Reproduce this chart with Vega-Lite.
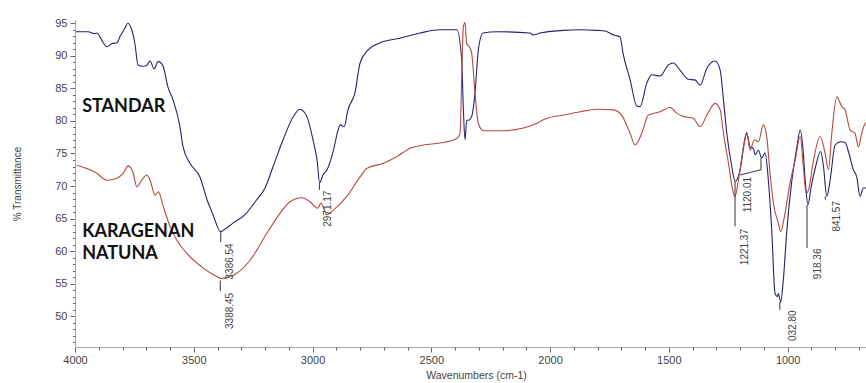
{
  "$schema": "https://vega.github.io/schema/vega-lite/v6.json",
  "width": 791,
  "height": 327,
  "autosize": "none",
  "padding": {"left": 75, "top": 20, "right": 0, "bottom": 36},
  "background": "white",
  "config": {"view": {"stroke": null}, "font": "Liberation Sans"},
  "resolve": {"axis": {"x": "independent", "y": "independent"}},
  "datasets": {
    "spectra": [
      {"s":"STANDAR","wn":3996,"T":93.7},{"s":"STANDAR","wn":3945,"T":93.7},{"s":"STANDAR","wn":3916,"T":93.4},{"s":"STANDAR","wn":3907,"T":93.5},{"s":"STANDAR","wn":3895,"T":92.9},{"s":"STANDAR","wn":3865,"T":91.4},{"s":"STANDAR","wn":3844,"T":91.9},{"s":"STANDAR","wn":3823,"T":92.0},{"s":"STANDAR","wn":3810,"T":93.0},{"s":"STANDAR","wn":3802,"T":93.5},{"s":"STANDAR","wn":3789,"T":94.3},{"s":"STANDAR","wn":3778,"T":95.0},{"s":"STANDAR","wn":3764,"T":94.3},{"s":"STANDAR","wn":3747,"T":91.7},{"s":"STANDAR","wn":3735,"T":88.6},{"s":"STANDAR","wn":3714,"T":88.4},{"s":"STANDAR","wn":3697,"T":88.6},{"s":"STANDAR","wn":3684,"T":89.2},{"s":"STANDAR","wn":3667,"T":88.0},{"s":"STANDAR","wn":3650,"T":89.1},{"s":"STANDAR","wn":3638,"T":88.9},{"s":"STANDAR","wn":3629,"T":88.4},{"s":"STANDAR","wn":3608,"T":85.1},{"s":"STANDAR","wn":3587,"T":83.2},{"s":"STANDAR","wn":3558,"T":79.1},{"s":"STANDAR","wn":3545,"T":76.0},{"s":"STANDAR","wn":3516,"T":73.5},{"s":"STANDAR","wn":3474,"T":71.4},{"s":"STANDAR","wn":3444,"T":67.9},{"s":"STANDAR","wn":3419,"T":65.6},{"s":"STANDAR","wn":3387,"T":63.0},{"s":"STANDAR","wn":3368,"T":63.4},{"s":"STANDAR","wn":3335,"T":64.3},{"s":"STANDAR","wn":3284,"T":65.6},{"s":"STANDAR","wn":3235,"T":67.9},{"s":"STANDAR","wn":3200,"T":69.7},{"s":"STANDAR","wn":3166,"T":73.0},{"s":"STANDAR","wn":3124,"T":77.1},{"s":"STANDAR","wn":3082,"T":80.6},{"s":"STANDAR","wn":3053,"T":81.8},{"s":"STANDAR","wn":3024,"T":80.7},{"s":"STANDAR","wn":2998,"T":77.1},{"s":"STANDAR","wn":2981,"T":74.0},{"s":"STANDAR","wn":2970,"T":70.5},{"s":"STANDAR","wn":2956,"T":71.7},{"s":"STANDAR","wn":2939,"T":72.5},{"s":"STANDAR","wn":2914,"T":75.2},{"s":"STANDAR","wn":2893,"T":78.5},{"s":"STANDAR","wn":2884,"T":79.4},{"s":"STANDAR","wn":2867,"T":79.1},{"s":"STANDAR","wn":2851,"T":81.7},{"s":"STANDAR","wn":2821,"T":84.4},{"s":"STANDAR","wn":2800,"T":88.9},{"s":"STANDAR","wn":2766,"T":90.9},{"s":"STANDAR","wn":2716,"T":92.0},{"s":"STANDAR","wn":2632,"T":92.7},{"s":"STANDAR","wn":2547,"T":93.5},{"s":"STANDAR","wn":2463,"T":94.0},{"s":"STANDAR","wn":2393,"T":94.0},{"s":"STANDAR","wn":2372,"T":89.4},{"s":"STANDAR","wn":2365,"T":81.7},{"s":"STANDAR","wn":2358,"T":77.1},{"s":"STANDAR","wn":2351,"T":80.1},{"s":"STANDAR","wn":2344,"T":80.1},{"s":"STANDAR","wn":2330,"T":80.7},{"s":"STANDAR","wn":2316,"T":84.3},{"s":"STANDAR","wn":2302,"T":90.9},{"s":"STANDAR","wn":2282,"T":93.5},{"s":"STANDAR","wn":2224,"T":93.7},{"s":"STANDAR","wn":2084,"T":93.5},{"s":"STANDAR","wn":2072,"T":93.2},{"s":"STANDAR","wn":2042,"T":93.5},{"s":"STANDAR","wn":1945,"T":93.9},{"s":"STANDAR","wn":1874,"T":94.0},{"s":"STANDAR","wn":1803,"T":93.9},{"s":"STANDAR","wn":1768,"T":93.8},{"s":"STANDAR","wn":1733,"T":93.2},{"s":"STANDAR","wn":1705,"T":92.9},{"s":"STANDAR","wn":1693,"T":90.4},{"s":"STANDAR","wn":1663,"T":86.3},{"s":"STANDAR","wn":1635,"T":82.3},{"s":"STANDAR","wn":1621,"T":82.2},{"s":"STANDAR","wn":1593,"T":85.8},{"s":"STANDAR","wn":1572,"T":87.1},{"s":"STANDAR","wn":1537,"T":86.9},{"s":"STANDAR","wn":1502,"T":88.6},{"s":"STANDAR","wn":1481,"T":88.9},{"s":"STANDAR","wn":1453,"T":87.8},{"s":"STANDAR","wn":1418,"T":86.4},{"s":"STANDAR","wn":1390,"T":86.3},{"s":"STANDAR","wn":1368,"T":85.5},{"s":"STANDAR","wn":1340,"T":88.1},{"s":"STANDAR","wn":1305,"T":89.2},{"s":"STANDAR","wn":1284,"T":87.8},{"s":"STANDAR","wn":1270,"T":83.2},{"s":"STANDAR","wn":1256,"T":78.1},{"s":"STANDAR","wn":1235,"T":73.0},{"s":"STANDAR","wn":1221,"T":70.7},{"s":"STANDAR","wn":1200,"T":72.5},{"s":"STANDAR","wn":1179,"T":77.3},{"s":"STANDAR","wn":1172,"T":78.1},{"s":"STANDAR","wn":1158,"T":76.0},{"s":"STANDAR","wn":1144,"T":75.8},{"s":"STANDAR","wn":1137,"T":74.8},{"s":"STANDAR","wn":1123,"T":75.5},{"s":"STANDAR","wn":1109,"T":74.3},{"s":"STANDAR","wn":1095,"T":75.1},{"s":"STANDAR","wn":1081,"T":70.9},{"s":"STANDAR","wn":1067,"T":63.3},{"s":"STANDAR","wn":1053,"T":53.5},{"s":"STANDAR","wn":1043,"T":53.0},{"s":"STANDAR","wn":1039,"T":53.5},{"s":"STANDAR","wn":1029,"T":52.2},{"s":"STANDAR","wn":1018,"T":55.6},{"s":"STANDAR","wn":1003,"T":63.3},{"s":"STANDAR","wn":982,"T":70.9},{"s":"STANDAR","wn":961,"T":76.0},{"s":"STANDAR","wn":947,"T":78.6},{"s":"STANDAR","wn":936,"T":76.0},{"s":"STANDAR","wn":926,"T":70.9},{"s":"STANDAR","wn":914,"T":67.1},{"s":"STANDAR","wn":903,"T":69.4},{"s":"STANDAR","wn":882,"T":73.0},{"s":"STANDAR","wn":861,"T":75.3},{"s":"STANDAR","wn":849,"T":73.0},{"s":"STANDAR","wn":835,"T":68.4},{"s":"STANDAR","wn":821,"T":70.9},{"s":"STANDAR","wn":800,"T":76.3},{"s":"STANDAR","wn":777,"T":76.8},{"s":"STANDAR","wn":758,"T":76.7},{"s":"STANDAR","wn":744,"T":75.3},{"s":"STANDAR","wn":723,"T":72.5},{"s":"STANDAR","wn":709,"T":71.4},{"s":"STANDAR","wn":695,"T":68.4},{"s":"STANDAR","wn":681,"T":69.7},{"s":"STANDAR","wn":670,"T":69.7},
      {"s":"KARAGENAN NATUNA","wn":3993,"T":73.2},{"s":"KARAGENAN NATUNA","wn":3937,"T":72.5},{"s":"KARAGENAN NATUNA","wn":3909,"T":72.0},{"s":"KARAGENAN NATUNA","wn":3867,"T":70.9},{"s":"KARAGENAN NATUNA","wn":3824,"T":71.2},{"s":"KARAGENAN NATUNA","wn":3797,"T":72.0},{"s":"KARAGENAN NATUNA","wn":3776,"T":73.1},{"s":"KARAGENAN NATUNA","wn":3755,"T":72.0},{"s":"KARAGENAN NATUNA","wn":3740,"T":69.9},{"s":"KARAGENAN NATUNA","wn":3719,"T":70.9},{"s":"KARAGENAN NATUNA","wn":3698,"T":71.7},{"s":"KARAGENAN NATUNA","wn":3684,"T":70.9},{"s":"KARAGENAN NATUNA","wn":3663,"T":68.6},{"s":"KARAGENAN NATUNA","wn":3649,"T":69.1},{"s":"KARAGENAN NATUNA","wn":3628,"T":66.8},{"s":"KARAGENAN NATUNA","wn":3600,"T":63.8},{"s":"KARAGENAN NATUNA","wn":3572,"T":61.7},{"s":"KARAGENAN NATUNA","wn":3530,"T":59.7},{"s":"KARAGENAN NATUNA","wn":3460,"T":57.4},{"s":"KARAGENAN NATUNA","wn":3403,"T":56.1},{"s":"KARAGENAN NATUNA","wn":3385,"T":55.8},{"s":"KARAGENAN NATUNA","wn":3319,"T":56.6},{"s":"KARAGENAN NATUNA","wn":3263,"T":58.6},{"s":"KARAGENAN NATUNA","wn":3193,"T":62.7},{"s":"KARAGENAN NATUNA","wn":3137,"T":65.8},{"s":"KARAGENAN NATUNA","wn":3095,"T":67.6},{"s":"KARAGENAN NATUNA","wn":3045,"T":68.2},{"s":"KARAGENAN NATUNA","wn":3011,"T":67.6},{"s":"KARAGENAN NATUNA","wn":2978,"T":66.6},{"s":"KARAGENAN NATUNA","wn":2964,"T":67.4},{"s":"KARAGENAN NATUNA","wn":2955,"T":66.8},{"s":"KARAGENAN NATUNA","wn":2940,"T":65.6},{"s":"KARAGENAN NATUNA","wn":2912,"T":66.3},{"s":"KARAGENAN NATUNA","wn":2856,"T":68.4},{"s":"KARAGENAN NATUNA","wn":2800,"T":71.4},{"s":"KARAGENAN NATUNA","wn":2772,"T":72.7},{"s":"KARAGENAN NATUNA","wn":2702,"T":73.5},{"s":"KARAGENAN NATUNA","wn":2646,"T":74.5},{"s":"KARAGENAN NATUNA","wn":2589,"T":75.8},{"s":"KARAGENAN NATUNA","wn":2533,"T":76.3},{"s":"KARAGENAN NATUNA","wn":2463,"T":76.6},{"s":"KARAGENAN NATUNA","wn":2393,"T":77.3},{"s":"KARAGENAN NATUNA","wn":2379,"T":78.1},{"s":"KARAGENAN NATUNA","wn":2372,"T":86.8},{"s":"KARAGENAN NATUNA","wn":2365,"T":94.5},{"s":"KARAGENAN NATUNA","wn":2358,"T":95.1},{"s":"KARAGENAN NATUNA","wn":2351,"T":91.9},{"s":"KARAGENAN NATUNA","wn":2340,"T":91.4},{"s":"KARAGENAN NATUNA","wn":2330,"T":90.4},{"s":"KARAGENAN NATUNA","wn":2316,"T":84.2},{"s":"KARAGENAN NATUNA","wn":2302,"T":79.6},{"s":"KARAGENAN NATUNA","wn":2281,"T":78.5},{"s":"KARAGENAN NATUNA","wn":2197,"T":78.5},{"s":"KARAGENAN NATUNA","wn":2112,"T":78.9},{"s":"KARAGENAN NATUNA","wn":2070,"T":79.4},{"s":"KARAGENAN NATUNA","wn":2014,"T":80.4},{"s":"KARAGENAN NATUNA","wn":1944,"T":80.9},{"s":"KARAGENAN NATUNA","wn":1874,"T":81.4},{"s":"KARAGENAN NATUNA","wn":1803,"T":81.8},{"s":"KARAGENAN NATUNA","wn":1733,"T":81.7},{"s":"KARAGENAN NATUNA","wn":1699,"T":80.9},{"s":"KARAGENAN NATUNA","wn":1663,"T":78.1},{"s":"KARAGENAN NATUNA","wn":1642,"T":76.3},{"s":"KARAGENAN NATUNA","wn":1614,"T":78.1},{"s":"KARAGENAN NATUNA","wn":1586,"T":80.9},{"s":"KARAGENAN NATUNA","wn":1537,"T":81.4},{"s":"KARAGENAN NATUNA","wn":1495,"T":82.1},{"s":"KARAGENAN NATUNA","wn":1467,"T":81.2},{"s":"KARAGENAN NATUNA","wn":1439,"T":80.7},{"s":"KARAGENAN NATUNA","wn":1397,"T":80.4},{"s":"KARAGENAN NATUNA","wn":1368,"T":79.1},{"s":"KARAGENAN NATUNA","wn":1340,"T":80.9},{"s":"KARAGENAN NATUNA","wn":1305,"T":82.7},{"s":"KARAGENAN NATUNA","wn":1284,"T":81.7},{"s":"KARAGENAN NATUNA","wn":1270,"T":78.1},{"s":"KARAGENAN NATUNA","wn":1249,"T":73.5},{"s":"KARAGENAN NATUNA","wn":1228,"T":68.9},{"s":"KARAGENAN NATUNA","wn":1221,"T":68.4},{"s":"KARAGENAN NATUNA","wn":1207,"T":70.9},{"s":"KARAGENAN NATUNA","wn":1186,"T":76.0},{"s":"KARAGENAN NATUNA","wn":1172,"T":78.3},{"s":"KARAGENAN NATUNA","wn":1158,"T":75.5},{"s":"KARAGENAN NATUNA","wn":1140,"T":77.1},{"s":"KARAGENAN NATUNA","wn":1123,"T":76.8},{"s":"KARAGENAN NATUNA","wn":1102,"T":79.4},{"s":"KARAGENAN NATUNA","wn":1088,"T":77.6},{"s":"KARAGENAN NATUNA","wn":1074,"T":72.0},{"s":"KARAGENAN NATUNA","wn":1060,"T":67.4},{"s":"KARAGENAN NATUNA","wn":1039,"T":64.3},{"s":"KARAGENAN NATUNA","wn":1029,"T":63.0},{"s":"KARAGENAN NATUNA","wn":1011,"T":65.8},{"s":"KARAGENAN NATUNA","wn":990,"T":70.4},{"s":"KARAGENAN NATUNA","wn":968,"T":74.0},{"s":"KARAGENAN NATUNA","wn":947,"T":77.6},{"s":"KARAGENAN NATUNA","wn":934,"T":73.0},{"s":"KARAGENAN NATUNA","wn":922,"T":68.9},{"s":"KARAGENAN NATUNA","wn":912,"T":69.4},{"s":"KARAGENAN NATUNA","wn":891,"T":74.0},{"s":"KARAGENAN NATUNA","wn":863,"T":77.6},{"s":"KARAGENAN NATUNA","wn":842,"T":75.0},{"s":"KARAGENAN NATUNA","wn":828,"T":72.5},{"s":"KARAGENAN NATUNA","wn":814,"T":78.1},{"s":"KARAGENAN NATUNA","wn":793,"T":83.7},{"s":"KARAGENAN NATUNA","wn":772,"T":82.2},{"s":"KARAGENAN NATUNA","wn":758,"T":81.7},{"s":"KARAGENAN NATUNA","wn":737,"T":78.6},{"s":"KARAGENAN NATUNA","wn":716,"T":78.1},{"s":"KARAGENAN NATUNA","wn":702,"T":76.0},{"s":"KARAGENAN NATUNA","wn":688,"T":78.1},{"s":"KARAGENAN NATUNA","wn":674,"T":79.6},{"s":"KARAGENAN NATUNA","wn":670,"T":79.8}
    ],
    "peaks": [
      {"label":"3386.54","wn":3386.54,"t1":63.0,"t2":61.4,"lwn":3347,"lt":61.2},
      {"label":"3388.45","wn":3388.45,"t1":55.5,"t2":53.9,"lwn":3347,"lt":53.6},
      {"label":"2971.17","wn":2971.17,"t1":70.5,"t2":69.4,"lwn":2933,"lt":69.3},
      {"label":"1221.37","wn":1221.37,"t1":70.7,"t2":63.8,"lwn":1179,"lt":63.4},
      {"label":"1120.01","wn":null,"t1":null,"t2":null,"lwn":1165,"lt":71.4},
      {"label":"032.80","wn":1032.8,"t1":52.2,"t2":51.0,"lwn":977,"lt":50.9},
      {"label":"918.36","wn":918.36,"t1":67.1,"t2":60.5,"lwn":872,"lt":60.4},
      {"label":"841.57","wn":841.57,"t1":68.4,"t2":67.9,"lwn":793,"lt":67.7}
    ],
    "leader": [
      {"i":0,"wn":1112,"T":74.3},
      {"i":1,"wn":1112,"T":72.5},
      {"i":2,"wn":1200,"T":71.7}
    ],
    "names": [
      {"text":"STANDAR","wn":3970,"T":82.1},
      {"text":"KARAGENAN","wn":3970,"T":62.9},
      {"text":"NATUNA","wn":3970,"T":59.6}
    ]
  },
  "layer": [
    {
      "data": {"name": "spectra"},
      "mark": {"type": "line", "strokeWidth": 1.1, "clip": true, "interpolate": "monotone"},
      "encoding": {
        "x": {
          "field": "wn", "type": "quantitative",
          "scale": {"domain": [670, 4000], "reverse": true, "zero": false, "nice": false},
          "axis": {
            "orient": "bottom",
            "values": [4000,3500,3000,2500,2000,1500,1000],
            "format": "d",
            "labelOverlap": false,
            "labelFlush": false,
            "tickSize": 5,
            "grid": false,
            "domainColor": "#aaaaaa",
            "tickColor": "#666666",
            "labelColor": "#444444",
            "labelFontSize": 11,
            "labelPadding": 2,
            "title": "Wavenumbers (cm-1)",
            "titleFontWeight": "normal",
            "titleFontSize": 10.5,
            "titleColor": "#444444",
            "titlePadding": 5,
            "titleX": 401
          }
        },
        "y": {
          "field": "T", "type": "quantitative",
          "scale": {"domain": [45.28, 95.5], "zero": false, "nice": false},
          "axis": {
            "orient": "left",
            "values": [50,55,60,65,70,75,80,85,90,95],
            "format": "d",
            "labelOverlap": false,
            "labelFlush": false,
            "tickSize": 5,
            "grid": false,
            "domainColor": "#aaaaaa",
            "tickColor": "#666666",
            "labelColor": "#4a4050",
            "labelFontSize": 11,
            "labelPadding": 3,
            "title": "% Transmittance",
            "titleFontWeight": "normal",
            "titleFontSize": 10,
            "titleColor": "#444444",
            "titleX": -53
          }
        },
        "color": {
          "field": "s", "type": "nominal",
          "scale": {"domain": ["STANDAR", "KARAGENAN NATUNA"], "range": ["#24246e", "#b54a3d"]},
          "legend": null
        }
      }
    },
    {
      "data": {"name": "peaks"},
      "transform": [{"filter": "isValid(datum.t1)"}],
      "mark": {"type": "rule", "color": "#333333", "strokeWidth": 1},
      "encoding": {
        "x": {
          "field": "wn", "type": "quantitative",
          "axis": {
            "orient": "bottom",
            "values": [3900,3800,3700,3600,3400,3300,3200,3100,2900,2800,2700,2600,2400,2300,2200,2100,1900,1800,1700,1600,1400,1300,1200,1100,900,800,700],
            "labels": false, "domain": false, "grid": false,
            "tickSize": 3, "tickColor": "#666666", "title": null
          }
        },
        "y": {
          "field": "t1", "type": "quantitative",
          "axis": {
            "orient": "left",
            "values": [46,47,48,49,51,52,53,54,56,57,58,59,61,62,63,64,66,67,68,69,71,72,73,74,76,77,78,79,81,82,83,84,86,87,88,89,91,92,93,94],
            "labels": false, "domain": false, "grid": false,
            "tickSize": 2.5, "tickColor": "#666666", "title": null
          }
        },
        "y2": {"field": "t2"}
      }
    },
    {
      "data": {"name": "leader"},
      "mark": {"type": "line", "color": "#333333", "strokeWidth": 1},
      "encoding": {
        "x": {"field": "wn", "type": "quantitative", "axis": null},
        "y": {"field": "T", "type": "quantitative", "axis": null},
        "order": {"field": "i", "type": "quantitative"}
      }
    },
    {
      "data": {"name": "peaks"},
      "mark": {"type": "text", "angle": 270, "align": "right", "baseline": "middle", "fontSize": 10, "color": "#444444", "font": "Liberation Sans"},
      "encoding": {
        "x": {"field": "lwn", "type": "quantitative", "axis": null},
        "y": {"field": "lt", "type": "quantitative", "axis": null},
        "text": {"field": "label"}
      }
    },
    {
      "data": {"name": "names"},
      "mark": {"type": "text", "align": "left", "baseline": "middle", "fontSize": 18, "fontWeight": "bold", "font": "Lato", "color": "#111111"},
      "encoding": {
        "x": {"field": "wn", "type": "quantitative", "axis": null},
        "y": {"field": "T", "type": "quantitative", "axis": null},
        "text": {"field": "text"}
      }
    }
  ]
}
